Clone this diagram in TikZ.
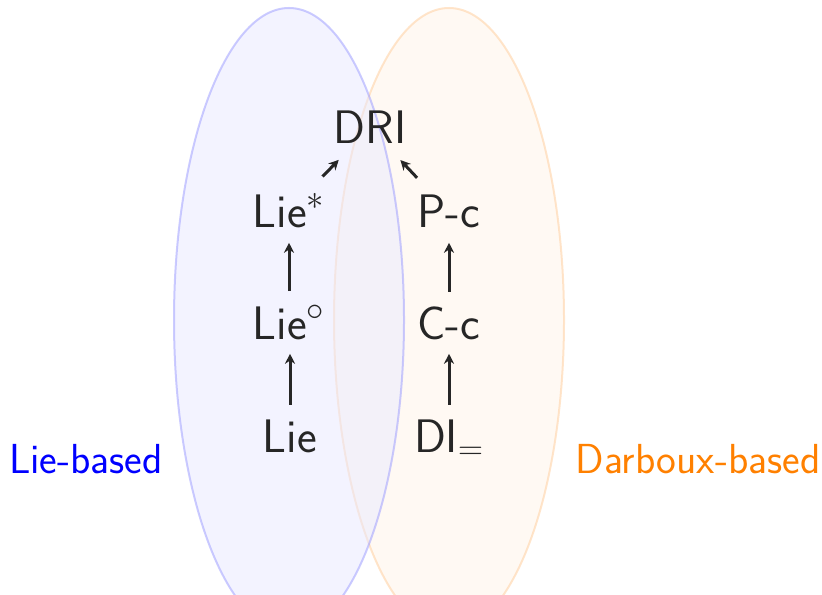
\documentclass[tikz,border=0pt]{standalone}
\usepackage{amsmath, amssymb}
\usepackage{xcolor}
\usetikzlibrary{arrows.meta}

\tikzset{
  cls/.style={font=\sffamily\fontsize{23.5}{28}\selectfont, text=black!85, inner sep=2pt, anchor=base},
  fam/.style={font=\sffamily\fontsize{21}{25}\selectfont, inner sep=2pt, anchor=base},
  up/.style={-{Stealth[length=5pt,width=5pt]}, line width=1.5pt, black!85},
  vup/.style={up, shorten <=5pt, shorten >=5pt},
  dup/.style={up, shorten <=9pt, shorten >=8pt}
}

\begin{document}
\begin{tikzpicture}[x=0.5pt,y=0.5pt]
	\useasboundingbox (0,0) rectangle (822,594);
	\clip (0,0) rectangle (822,594);

	% Mengen
	\draw[orange!40, fill=orange!9, opacity=0.5, line width=1pt] (449,274) ellipse [x radius=115, y radius=312];
	\draw[blue!40, fill=blue!9, opacity=0.5, line width=1pt] (289,274) ellipse [x radius=115, y radius=312];

	% Begriffe
	\node[cls] (DRI) at (370,450) {DRI};
	\node[cls] (LieS) at (289,366) {Lie$^*$};
	\node[cls] (Pc) at (449,366) {P-c};
	\node[cls] (LieO) at (289,255) {Lie$^\circ$};
	\node[cls] (Cc) at (449,255) {C-c};
	\node[cls] (Lie) at (290,142) {Lie};
	\node[cls] (DI) at (449,142) {DI$_=$};

	% Beschriftung
	\node[fam, text=blue] (lieb) at (86,121) {Lie-based};
	\node[fam, text=orange] (darb) at (698,121) {Darboux-based};

	% Pfeile
	\draw[vup] (Lie.north) -- (Lie.north |- LieO.south);
	\draw[vup] (LieO.north) -- (LieO.north |- LieS.south);
	\draw[vup] (DI.north) -- (DI.north |- Cc.south);
	\draw[vup] (Cc.north) -- (Cc.north |- Pc.south);
	\draw[dup] (LieS) -- (DRI);
	\draw[dup] (Pc) -- (DRI);
\end{tikzpicture}
\end{document}
